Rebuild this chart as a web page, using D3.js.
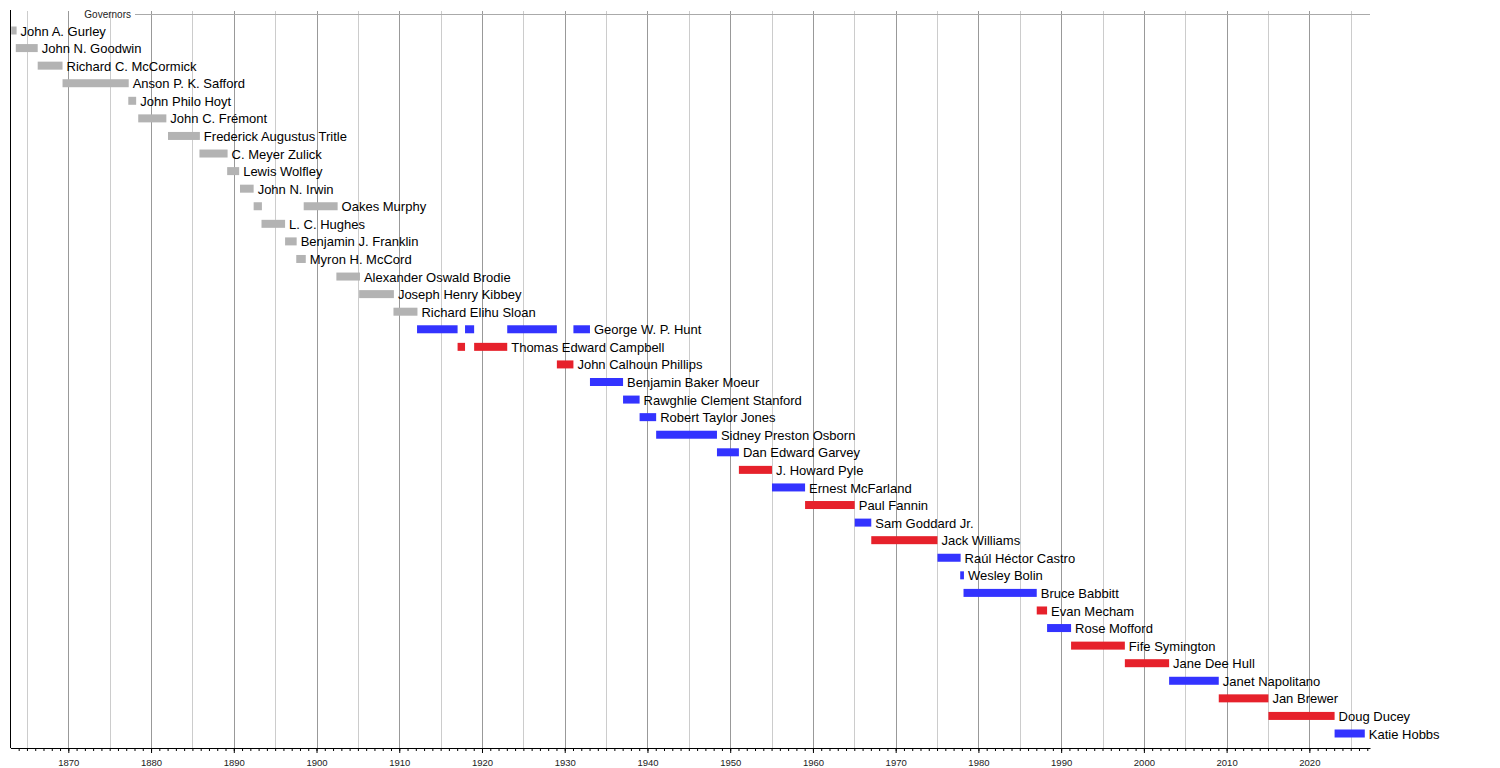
<!DOCTYPE html>
<html>
<head>
<meta charset="utf-8">
<script src="https://cdn.jsdelivr.net/npm/d3@7"></script>
<style>
  body { margin: 0; background: #fff; }
  svg { font-family: "Liberation Sans", Arial, sans-serif; }
</style>
</head>
<body>
<svg id="chart" width="1500" height="768"></svg>
<script>
// governors, top to bottom
const governors = [
  "John A. Gurley", "John N. Goodwin", "Richard C. McCormick", "Anson P. K. Safford",
  "John Philo Hoyt", "John C. Frémont", "Frederick Augustus Tritle", "C. Meyer Zulick",
  "Lewis Wolfley", "John N. Irwin", "Oakes Murphy", "L. C. Hughes",
  "Benjamin J. Franklin", "Myron H. McCord", "Alexander Oswald Brodie", "Joseph Henry Kibbey",
  "Richard Elihu Sloan", "George W. P. Hunt", "Thomas Edward Campbell", "John Calhoun Phillips",
  "Benjamin Baker Moeur", "Rawghlie Clement Stanford", "Robert Taylor Jones", "Sidney Preston Osborn",
  "Dan Edward Garvey", "J. Howard Pyle", "Ernest McFarland", "Paul Fannin",
  "Sam Goddard Jr.", "Jack Williams", "Raúl Héctor Castro", "Wesley Bolin",
  "Bruce Babbitt", "Evan Mecham", "Rose Mofford", "Fife Symington",
  "Jane Dee Hull", "Janet Napolitano", "Jan Brewer", "Doug Ducey", "Katie Hobbs"
];

// T = territorial, D = democrat, R = republican
const party = [
  "T", "T", "T", "T", "T", "T", "T", "T", "T", "T", "T", "T", "T", "T", "T", "T", "T",
  "D", "R", "R", "D", "D", "D", "D", "D", "R", "D", "R", "D", "R", "D", "D", "D", "R",
  "D", "R", "R", "D", "R", "R", "D"
];

// terms in office, decimal years [start, end]
const terms = [
  [[1863.1, 1863.75]],
  [[1863.65, 1866.3]],
  [[1866.3, 1869.3]],
  [[1869.3, 1877.3]],
  [[1877.25, 1878.2]],
  [[1878.45, 1881.85]],
  [[1882.05, 1885.9]],
  [[1885.85, 1889.25]],
  [[1889.2, 1890.65]],
  [[1890.75, 1892.4]],
  [[1892.4, 1893.4], [1898.45, 1902.55]],
  [[1893.35, 1896.2]],
  [[1896.2, 1897.6]],
  [[1897.55, 1898.7]],
  [[1902.4, 1905.25]],
  [[1905.15, 1909.35]],
  [[1909.3, 1912.2]],
  [[1912.15, 1917.05], [1917.95, 1919.05], [1923.05, 1929.05], [1931.05, 1933.05]],
  [[1917.05, 1917.95], [1919.05, 1923.05]],
  [[1929.05, 1931.05]],
  [[1933.05, 1937.05]],
  [[1937.05, 1939.05]],
  [[1939.05, 1941.05]],
  [[1941.05, 1948.4]],
  [[1948.4, 1951.05]],
  [[1951.05, 1955.05]],
  [[1955.05, 1959.05]],
  [[1959.05, 1965.05]],
  [[1965.05, 1967.05]],
  [[1967.05, 1975.05]],
  [[1975.05, 1977.85]],
  [[1977.8, 1978.25]],
  [[1978.2, 1987.05]],
  [[1987.05, 1988.3]],
  [[1988.3, 1991.2]],
  [[1991.2, 1997.7]],
  [[1997.7, 2003.05]],
  [[2003.05, 2009.05]],
  [[2009.05, 2015.05]],
  [[2015.05, 2023.05]],
  [[2023.05, 2026.7]]
];

const yearStart = 1863;
const yearEnd = 2027.33;
const groupLabel = "Governors";

const colors = { T: "#b3b3b3", D: "#3333ff", R: "#e6212b" };

const svg = d3.select("#chart");

const x = d3.scaleLinear().domain([yearStart, yearEnd]).range([10.4, 1370]);
const y = d3.scalePoint().domain(governors).range([31, 734]);
const axisY = 748;
const barH = 8;

// grid lines every 5 years, darker on decades
const gridYears = d3.range(1865, 2027, 5);
svg.append("g")
  .selectAll("line")
  .data(gridYears)
  .join("line")
  .attr("x1", d => Math.round(x(d)) + 0.5)
  .attr("x2", d => Math.round(x(d)) + 0.5)
  .attr("y1", 11)
  .attr("y2", axisY)
  .attr("stroke", d => d % 10 === 0 ? "#999" : "#ccc")
  .attr("stroke-width", 1);

// group header
svg.append("text")
  .attr("x", 131)
  .attr("y", 14)
  .attr("dy", "0.35em")
  .attr("text-anchor", "end")
  .attr("font-size", 10)
  .attr("fill", "#222")
  .text(groupLabel);
svg.append("line")
  .attr("x1", 135).attr("x2", x(yearEnd))
  .attr("y1", 14.5).attr("y2", 14.5)
  .attr("stroke", "#aaa");

// left border
svg.append("line")
  .attr("x1", 10.5).attr("x2", 10.5)
  .attr("y1", 10).attr("y2", axisY)
  .attr("stroke", "#000");

// bars
const rows = svg.append("g")
  .selectAll("g")
  .data(governors)
  .join("g")
  .attr("transform", d => `translate(0, ${y(d)})`);

rows.selectAll("rect")
  .data((d, i) => terms[i].map(t => ({ t, p: party[i] })))
  .join("rect")
  .attr("x", d => x(d.t[0]))
  .attr("width", d => Math.max(1, x(d.t[1]) - x(d.t[0])))
  .attr("y", -barH / 2 - 0.5)
  .attr("height", barH)
  .attr("fill", d => colors[d.p]);

rows.append("text")
  .attr("x", (d, i) => x(d3.max(terms[i], t => t[1])) + 4)
  .attr("dy", "0.35em")
  .attr("font-size", 13)
  .attr("fill", "#000")
  .text(d => d);

// axis: minor yearly ticks, decades labelled
const minorAxis = d3.axisBottom(x)
  .tickValues(d3.range(1864, 2028, 1))
  .tickSize(3)
  .tickFormat("");
svg.append("g")
  .attr("transform", `translate(0, ${axisY})`)
  .call(minorAxis)
  .call(g => g.select(".domain").remove())
  .call(g => g.selectAll("line").attr("stroke", "#000"));

const majorAxis = d3.axisBottom(x)
  .tickValues(d3.range(1870, 2021, 10))
  .tickSize(5)
  .tickPadding(6)
  .tickSizeOuter(0)
  .tickFormat(d3.format("d"));
svg.append("g")
  .attr("transform", `translate(0, ${axisY})`)
  .call(majorAxis)
  .call(g => g.select(".domain").attr("stroke", "#000"))
  .call(g => g.selectAll("text").attr("font-size", 9.5).attr("fill", "#222")
    .attr("font-family", "'Liberation Sans', Arial, sans-serif"));
</script>
</body>
</html>
